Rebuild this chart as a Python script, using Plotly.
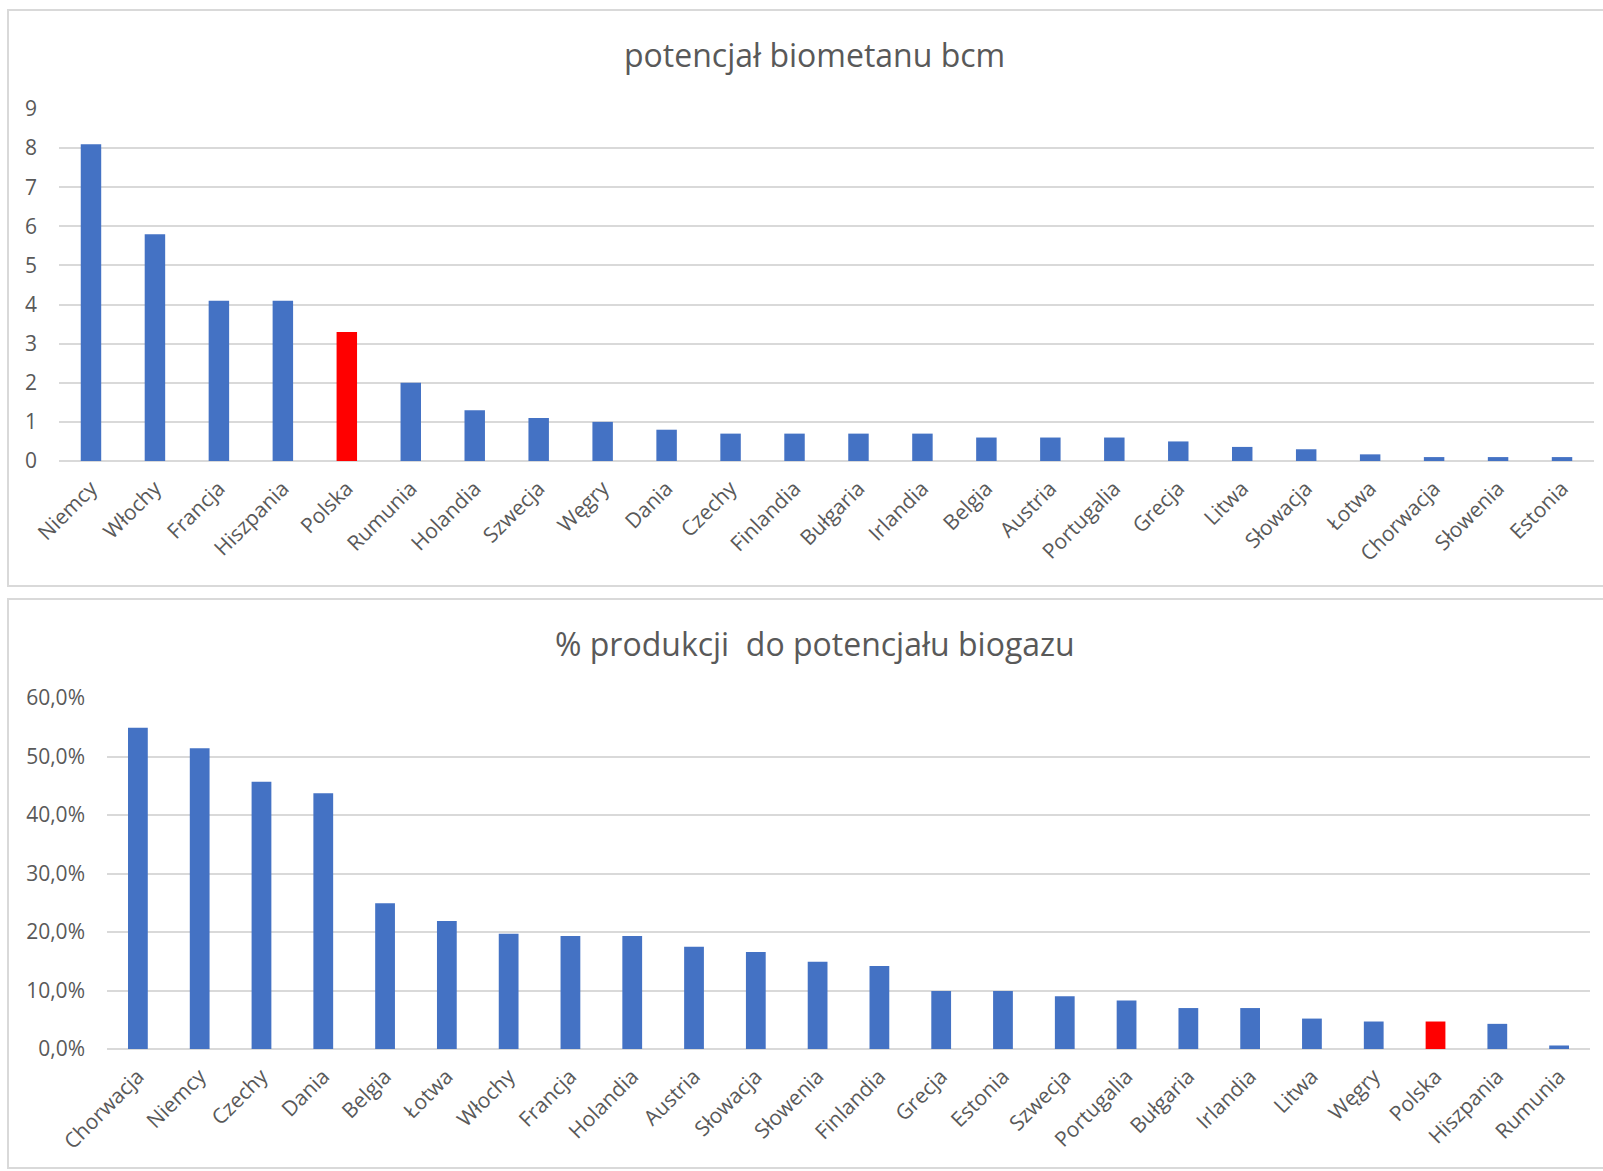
import plotly.graph_objects as go

# Biomethane potential per country (bcm)
kraje_biometan = [
    "Niemcy", "Włochy", "Francja", "Hiszpania", "Polska", "Rumunia", "Holandia",
    "Szwecja", "Węgry", "Dania", "Czechy", "Finlandia", "Bułgaria", "Irlandia",
    "Belgia", "Austria", "Portugalia", "Grecja", "Litwa", "Słowacja", "Łotwa",
    "Chorwacja", "Słowenia", "Estonia",
]
biometan_bcm = [
    8.1, 5.8, 4.1, 4.1, 3.3, 2.0, 1.3,
    1.1, 1.0, 0.8, 0.7, 0.7, 0.7, 0.7,
    0.6, 0.6, 0.6, 0.5, 0.36, 0.3, 0.17,
    0.1, 0.1, 0.1,
]

# Current production as a share of biogas potential
kraje_udzial = [
    "Chorwacja", "Niemcy", "Czechy", "Dania", "Belgia", "Łotwa", "Włochy",
    "Francja", "Holandia", "Austria", "Słowacja", "Słowenia", "Finlandia",
    "Grecja", "Estonia", "Szwecja", "Portugalia", "Bułgaria", "Irlandia",
    "Litwa", "Węgry", "Polska", "Hiszpania", "Rumunia",
]
udzial_produkcji = [
    0.549, 0.514, 0.457, 0.437, 0.249, 0.219, 0.197,
    0.193, 0.193, 0.175, 0.166, 0.149, 0.142,
    0.099, 0.099, 0.090, 0.083, 0.070, 0.070,
    0.052, 0.047, 0.047, 0.043, 0.006,
]

tytul_gora = "potencjał biometanu bcm"
tytul_dol = "% produkcji  do potencjału biogazu"

WYROZNIONY = "Polska"
NIEBIESKI = "#4472C4"
CZERWONY = "#FF0000"
SZARY_TEKST = "#595959"
SZARY_LINIA = "#d9d9d9"
FONT = "Open Sans"

W, H = 1603, 1171


def kolory(kraje):
    return [CZERWONY if k == WYROZNIONY else NIEBIESKI for k in kraje]


def px_x(v):
    return v / W


def px_y(v):
    return 1 - v / H


fig = go.Figure()

fig.add_trace(go.Bar(
    x=kraje_biometan, y=biometan_bcm,
    marker=dict(color=kolory(kraje_biometan), line=dict(width=0)),
    xaxis="x", yaxis="y", hoverinfo="x+y",
))
fig.add_trace(go.Bar(
    x=kraje_udzial, y=udzial_produkcji,
    marker=dict(color=kolory(kraje_udzial), line=dict(width=0)),
    xaxis="x2", yaxis="y2", hoverinfo="x+y",
))

os_x = dict(
    type="category", tickangle=-45, showgrid=False, zeroline=False,
    showline=False, ticks="", automargin=False,
    tickfont=dict(family=FONT, size=21, color=SZARY_TEKST),
    ticklabelstandoff=10,
)
os_y = dict(
    showgrid=True, gridcolor=SZARY_LINIA, gridwidth=2, zeroline=True,
    zerolinecolor=SZARY_LINIA, zerolinewidth=2, showline=False, ticks="",
    automargin=False,
    tickfont=dict(family=FONT, size=21, color=SZARY_TEKST),
    ticklabelstandoff=21,
)

fig.update_layout(
    width=W, height=H,
    margin=dict(l=0, r=0, t=0, b=0, pad=0, autoexpand=False),
    paper_bgcolor="white", plot_bgcolor="white",
    showlegend=False,
    separators=", ",
    bargap=0.68,
    xaxis=dict(os_x, domain=[px_x(59), px_x(1594)], anchor="y"),
    yaxis=dict(os_y, domain=[px_y(461), px_y(109)], range=[0, 9], dtick=1,
               anchor="x"),
    xaxis2=dict(os_x, domain=[px_x(107), px_x(1590)], anchor="y2"),
    yaxis2=dict(os_y, domain=[px_y(1049), px_y(698)], range=[0, 0.6],
                dtick=0.1, tickformat=".1%", anchor="x2"),
    shapes=[
        dict(type="rect", xref="paper", yref="paper",
             x0=px_x(8), x1=px_x(1630), y0=px_y(586), y1=px_y(10),
             line=dict(color=SZARY_LINIA, width=2), layer="below"),
        dict(type="rect", xref="paper", yref="paper",
             x0=px_x(8), x1=px_x(1630), y0=px_y(1168), y1=px_y(599),
             line=dict(color=SZARY_LINIA, width=2), layer="below"),
    ],
    annotations=[
        dict(text=tytul_gora, xref="paper", yref="paper",
             x=px_x(815), y=px_y(54), xanchor="center", yanchor="middle",
             showarrow=False, font=dict(family=FONT, size=32, color=SZARY_TEKST)),
        dict(text=tytul_dol, xref="paper", yref="paper",
             x=px_x(815), y=px_y(644), xanchor="center", yanchor="middle",
             showarrow=False, font=dict(family=FONT, size=32, color=SZARY_TEKST)),
    ],
)

fig.write_html("out.html")
